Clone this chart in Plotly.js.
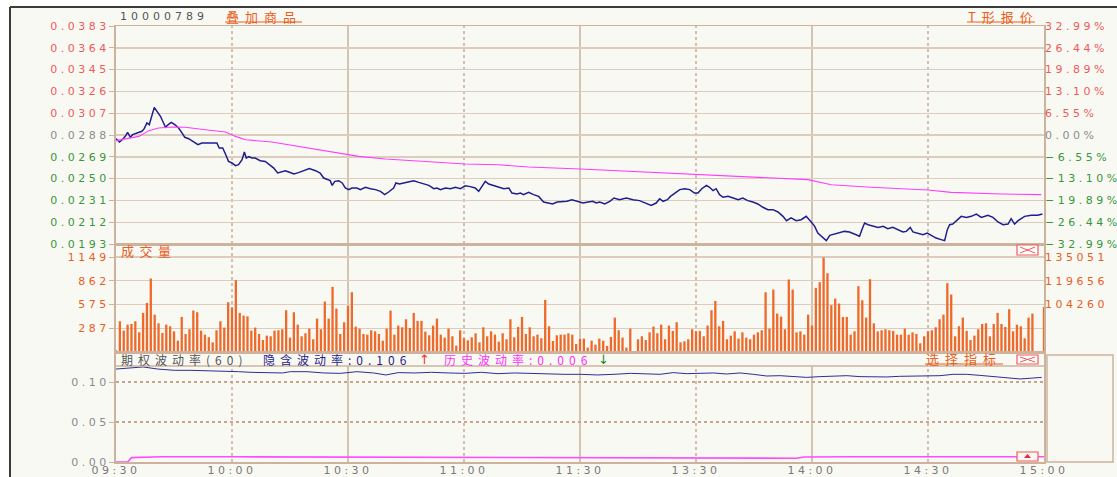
<!DOCTYPE html>
<html><head><meta charset="utf-8">
<script src="https://cdn.plot.ly/plotly-3.0.1.min.js"></script>
<style>
html,body{margin:0;padding:0;background:#fff;}
#chart{width:1117px;height:477px;}
g.xtick text, g.x3tick text, g.ytick text, g.y2tick text, g.y3tick text, g.y4tick text, g.y5tick text {letter-spacing:3.5px;}
</style></head><body><div id="chart"></div>
<script>
// ---------------- DATA ----------------
const timeTicks = [0,30,60,90,120,150,180,210,240];
const timeLabels = ['09:30','10:00','10:30','11:00','11:30','13:30','14:00','14:30','15:00'];

const basePrice = 0.0288;
const priceTicks = [0.0383,0.0364,0.0345,0.0326,0.0307,0.0288,0.0269,0.0250,0.0231,0.0212,0.0193];
const priceTickLabels = ['0.0383','0.0364','0.0345','0.0326','0.0307','0.0288','0.0269','0.0250','0.0231','0.0212','0.0193'];
const pctTickLabels = ['32.99%','26.44%','19.89%','13.10%','6.55%','0.00%','−6.55%','−13.10%','−19.89%','−26.44%','−32.99%'];

const volTicks = [287,575,862,1149];
const volTickLabels = ['287','575','862','1149'];
const volRightTicks = [1149,862,575];
const volRightLabels = ['135051','119656','104260'];

const ivTicks = [0,0.05,0.10];
const ivTickLabels = ['0.00','0.05','0.10'];

// minutes since 09:30 on the trading clock (11:30 == 13:00 == 120)
const priceMinute = [0,0.9,1.6,2.4,3.0,3.7,4.3,5.4,6.7,7.3,8.0,8.6,9.1,9.5,9.9,10.6,11.5,12.3,12.8,13.5,
14.3,15.2,16.2,17.1,17.8,18.8,20.1,21.2,22.2,23.5,24.8,26.1,26.7,27.6,28.3,29.1,30.0,30.9,31.7,32.6,
33.2,33.7,34.3,35.2,36.0,37.3,38.6,39.9,40.8,41.8,42.9,43.8,44.7,46.0,47.2,48.5,50.0,51.6,52.8,53.7,
54.6,55.4,55.9,56.6,57.6,58.5,59.3,60.2,61.0,62.3,63.2,64.5,65.8,67.1,68.4,69.5,70.5,71.8,72.4,73.3,
74.4,75.7,77.0,78.3,79.6,80.9,82.2,83.0,83.9,85.2,86.5,87.8,89.1,90.3,91.6,92.9,93.8,94.7,95.5,96.4,
97.7,99.0,100.3,101.6,102.4,103.7,104.6,105.4,106.7,108.0,109.3,110.6,111.9,112.9,114.1,115.3,116.6,117.9,119.2,120.1,
120.8,122.1,123.3,124.2,125.1,126.4,127.7,128.8,130.2,132.0,133.7,135.4,137.1,138.4,139.7,140.6,141.5,142.6,143.4,144.5,
145.8,147.1,148.4,149.6,150.5,151.5,152.7,153.5,154.4,155.2,156.1,157.0,158.3,159.6,160.9,162.1,163.4,164.7,166.0,167.3,
168.6,169.9,171.2,172.5,173.4,174.6,175.9,177.2,178.5,179.8,180.7,181.5,182.7,183.7,184.6,185.8,187.1,188.4,189.7,191.0,
192.3,192.9,193.6,194.5,195.8,197.1,198.4,199.6,200.9,202.2,203.5,204.4,205.4,206.1,207.4,208.7,209.8,210.8,212.1,213.4,
214.3,215.0,215.6,216.4,217.3,218.6,219.9,221.2,222.5,223.8,225.5,226.8,228.1,229.4,230.7,231.5,232.4,233.3,235.0,236.7,
238.4,239.6];
const price = [0.02848,0.02819,0.02839,0.02868,0.02903,0.02860,0.02883,0.02897,0.02912,0.02935,0.02985,0.02970,0.03028,0.03072,0.03121,0.03086,0.03043,0.02985,0.02947,0.02970,
0.02990,0.02970,0.02941,0.02897,0.02860,0.02848,0.02819,0.02796,0.02810,0.02810,0.02816,0.02810,0.02767,0.02767,0.02714,0.02650,0.02636,0.02613,0.02621,0.02665,
0.02732,0.02679,0.02691,0.02679,0.02679,0.02656,0.02650,0.02613,0.02592,0.02549,0.02557,0.02569,0.02557,0.02540,0.02552,0.02569,0.02587,0.02569,0.02549,0.02505,
0.02491,0.02482,0.02441,0.02476,0.02482,0.02462,0.02418,0.02404,0.02418,0.02418,0.02404,0.02424,0.02412,0.02404,0.02389,0.02360,0.02383,0.02418,0.02462,0.02453,
0.02462,0.02470,0.02482,0.02467,0.02453,0.02441,0.02412,0.02418,0.02404,0.02418,0.02412,0.02424,0.02412,0.02438,0.02430,0.02418,0.02389,0.02430,0.02476,0.02453,
0.02441,0.02424,0.02412,0.02418,0.02374,0.02366,0.02374,0.02360,0.02380,0.02360,0.02345,0.02296,0.02287,0.02279,0.02296,0.02302,0.02302,0.02316,0.02302,0.02296,
0.02287,0.02296,0.02302,0.02287,0.02296,0.02279,0.02302,0.02331,0.02316,0.02331,0.02316,0.02308,0.02287,0.02267,0.02287,0.02325,0.02302,0.02316,0.02345,0.02374,
0.02404,0.02412,0.02404,0.02374,0.02374,0.02412,0.02441,0.02424,0.02395,0.02412,0.02360,0.02337,0.02345,0.02331,0.02316,0.02331,0.02308,0.02296,0.02279,0.02250,
0.02229,0.02229,0.02209,0.02171,0.02133,0.02157,0.02133,0.02142,0.02171,0.02122,0.02084,0.02026,0.01988,0.01959,0.02005,0.02017,0.02026,0.02040,0.02035,0.02017,
0.01997,0.02055,0.02113,0.02098,0.02084,0.02075,0.02084,0.02064,0.02075,0.02055,0.02035,0.02040,0.02075,0.02035,0.02026,0.02011,0.02026,0.02005,0.01982,0.01968,
0.01959,0.02055,0.02098,0.02104,0.02128,0.02171,0.02162,0.02171,0.02191,0.02162,0.02180,0.02162,0.02122,0.02098,0.02104,0.02151,0.02104,0.02133,0.02171,0.02180,
0.02180,0.02191];

const avgMinute = [0,2.4,5.9,8.5,11.0,14.5,17.9,23.1,28.3,30.9,33.5,40.3,47.2,54.1,60.2,62.8,69.7,78.3,90.3,99.0,106.7,120.1,136.7,149.6,162.6,178.9,185.0,195.3,210.0,216.0,229.0,239.3];
const avgPrice = [0.02831,0.02848,0.02868,0.02918,0.02941,0.02950,0.02947,0.02926,0.02906,0.02868,0.02839,0.02819,0.02781,0.02746,0.02709,0.02694,0.02671,0.02650,0.02627,0.02621,0.02601,0.02584,0.02557,0.02540,0.02520,0.02491,0.02447,0.02424,0.02401,0.02380,0.02366,0.02360];

// one bar per trading minute, index = minutes since 09:30
const volume = [20,
372,259,331,339,372,238,473,594,889,452,
347,230,331,311,250,137,424,218,275,501,
481,259,210,178,117,263,372,295,602,537,
869,473,440,432,259,295,218,145,198,190,
259,263,275,505,174,481,331,190,226,283,
154,404,275,610,404,788,525,218,360,558,
723,307,283,218,210,263,250,218,137,283,
501,210,319,299,396,291,473,376,376,246,
202,319,404,210,174,283,190,77,263,166,
141,178,226,117,299,190,250,210,125,226,
154,396,178,303,424,218,299,190,210,166,
630,311,133,202,210,210,226,210,97,158,
162,53,137,89,162,137,73,182,416,263,
174,53,283,8,154,190,145,238,307,226,
331,154,319,255,360,117,129,154,275,250,
255,190,319,505,618,311,376,154,198,250,
162,238,174,154,210,238,263,723,283,755,
465,428,275,877,755,238,250,210,452,319,
776,844,1143,953,566,646,586,424,424,210,
250,796,626,416,881,347,250,263,275,263,
255,210,210,283,210,238,218,105,190,250,
263,299,396,452,832,695,190,311,416,255,
145,198,275,339,347,190,339,473,339,303,
517,250,331,311,166,416,465,
0,0,545];

const ivMinute = [0,4.3,7.0,10.8,15.1,19.4,23.7,28.0,31.7,34.9,38.7,43.0,45.1,49.4,53.7,58.0,62.3,66.6,69.8,73.0,77.3,81.6,85.9,90.2,94.5,98.8,103.1,107.3,111.6,115.9,120.2,124.5,128.8,133.1,140.7,144.1,147.6,151.0,154.5,157.9,161.4,164.8,168.3,171.7,175.2,178.6,182.1,185.5,189.0,192.4,195.8,199.3,202.7,206.2,209.6,213.1,216.5,220.0,223.4,226.9,230.3,233.8,237.2,239.4];
const impliedVol = [0.1162,0.1179,0.1188,0.1162,0.1146,0.1146,0.1142,0.1129,0.1129,0.1121,0.1121,0.1113,0.1129,0.1129,0.1113,0.1108,0.1129,0.1113,0.1088,0.1117,0.1113,0.1121,0.1113,0.1108,0.1121,0.1104,0.1113,0.1108,0.1096,0.1096,0.1096,0.1088,0.1096,0.1108,0.1096,0.1117,0.1104,0.1113,0.1113,0.1100,0.1113,0.1096,0.1075,0.1079,0.1071,0.1058,0.1067,0.1075,0.1079,0.1067,0.1063,0.1063,0.1071,0.1075,0.1083,0.1079,0.1096,0.1096,0.1083,0.1071,0.1058,0.1038,0.1050,0.1058];

const hvMinute = [0,3,4,8,12,30,60,90,110,120,150,176,178,182,184,190,240];
const histVol = [0,0,0.0055,0.006,0.0065,0.0065,0.0062,0.006,0.0055,0.005,0.0047,0.0047,0.0062,0.0066,0.0062,0.0065,0.0065];

// ---------------- STYLE / LAYOUT ----------------
const W = 1117, H = 477;
const px = x => x / W;
const py = y => 1 - y / H;
const RED = '#F05A5A', GREEN = '#3A963A', GREY = '#8C8C8C', ORANGE = '#E8601C';
const gridC = '#DDCBBC', borderC = '#CDB39E', dotC = '#C7A68F';
const tickFont = {family: 'DejaVu Sans', size: 11};

const colorFor = v => v > basePrice + 1e-9 ? RED : (v < basePrice - 1e-9 ? GREEN : GREY);
const priceText = priceTicks.map((v, i) => `<span style="color:${colorFor(v)}">${priceTickLabels[i]}</span>`);
const pctText = priceTicks.map((v, i) => `<span style="color:${colorFor(v)}">${pctTickLabels[i]}</span>`);

const xDom = [px(116), px(1044)];
// panel geometry (pixels from top)
const priceTop = 26, priceBot = 244;
const volTop = 244, volGridTop = 257, volBot = 352;
const ivHead = 352, ivTop = 366, ivBot = 462;
const volRangeTop = volTicks[volTicks.length - 1] * (volBot - volTop) / (volBot - volGridTop);
const ivPlotTop = 0.12;
const ivRangeTop = ivPlotTop * (ivBot - ivHead) / (ivBot - ivTop);

const minutes = volume.map((v, i) => i);

const traces = [
  {x: avgMinute, y: avgPrice, xaxis: 'x', yaxis: 'y2', type: 'scatter', mode: 'lines',
   line: {color: '#FF3CFF', width: 1.1}, hoverinfo: 'skip'},
  {x: priceMinute, y: price, xaxis: 'x', yaxis: 'y', type: 'scatter', mode: 'lines',
   line: {color: '#1E1E8C', width: 1.5}, hoverinfo: 'skip'},
  {x: minutes, y: volume, xaxis: 'x2', yaxis: 'y3', type: 'bar', width: 0.6,
   marker: {color: '#EE6A2A', line: {width: 0}}, hoverinfo: 'skip'},
  {x: minutes, y: volume, xaxis: 'x2', yaxis: 'y4', type: 'bar', width: 0.6,
   marker: {color: 'rgba(0,0,0,0)', line: {width: 0}}, hoverinfo: 'skip'},
  {x: ivMinute, y: impliedVol, xaxis: 'x3', yaxis: 'y5', type: 'scatter', mode: 'lines',
   line: {color: '#2E2E90', width: 1}, hoverinfo: 'skip'},
  {x: hvMinute, y: histVol, xaxis: 'x3', yaxis: 'y5', type: 'scatter', mode: 'lines',
   line: {color: '#FF4CFF', width: 1.6}, hoverinfo: 'skip'}
];

const baseX = {domain: xDom, range: [0, 240], showgrid: false, zeroline: false, ticks: '',
  showline: true, mirror: true, linecolor: borderC, linewidth: 1.5, fixedrange: true};

const shapes = [];
// background / frame
shapes.push({type: 'rect', xref: 'paper', yref: 'paper', x0: px(10), x1: 1, y0: 0, y1: py(7),
  fillcolor: '#F9F9F4', line: {width: 0}, layer: 'below'});
shapes.push({type: 'line', xref: 'paper', yref: 'paper', x0: px(10), x1: 1, y0: py(7), y1: py(7),
  line: {color: '#3C3C3C', width: 2}});
shapes.push({type: 'line', xref: 'paper', yref: 'paper', x0: px(10), x1: px(10), y0: 0, y1: py(7),
  line: {color: '#3C3C3C', width: 2}});
// vertical grid lines in each panel
const solidSet = new Set([60, 120, 180]);
timeTicks.slice(1, -1).forEach(t => {
  const solid = solidSet.has(t);
  const ln = solid ? {color: '#CDB5A1', width: 1.6} : {color: dotC, width: 1.4, dash: 'dot'};
  shapes.push({type: 'line', xref: 'x', yref: 'y domain', x0: t, x1: t, y0: 0, y1: 1, line: ln, layer: 'below'});
  shapes.push({type: 'line', xref: 'x2', yref: 'y3 domain', x0: t, x1: t, y0: 0, y1: 1, line: ln, layer: 'below'});
  shapes.push({type: 'line', xref: 'x3', yref: 'y5', x0: t, x1: t, y0: 0, y1: ivPlotTop, line: ln, layer: 'below'});
});
// header separator of the volatility panel
shapes.push({type: 'line', xref: 'paper', yref: 'paper', x0: xDom[0], x1: xDom[1], y0: py(ivTop), y1: py(ivTop),
  line: {color: borderC, width: 1.5}});
// right side empty box of the volatility panel
shapes.push({type: 'rect', xref: 'paper', yref: 'paper', x0: px(1047), x1: px(1113), y0: py(462), y1: py(355),
  line: {color: borderC, width: 1.5}});
// underlines
[[225, 302, 22], [967, 1035, 22], [925, 1003, 364]].forEach(u => {
  shapes.push({type: 'line', xref: 'paper', yref: 'paper', x0: px(u[0]), x1: px(u[1]), y0: py(u[2]), y1: py(u[2]),
    line: {color: ORANGE, width: 1}});
});
// close boxes
[[245, 255], [355, 364]].forEach(b => {
  shapes.push({type: 'rect', xref: 'paper', yref: 'paper', x0: px(1017), x1: px(1038), y0: py(b[1]), y1: py(b[0]),
    line: {color: '#F05A5A', width: 1.2}, fillcolor: '#FFFFFF'});
  shapes.push({type: 'line', xref: 'paper', yref: 'paper', x0: px(1020), x1: px(1035), y0: py(b[0] + 2), y1: py(b[1] - 2),
    line: {color: '#F05A5A', width: 1}});
  shapes.push({type: 'line', xref: 'paper', yref: 'paper', x0: px(1020), x1: px(1035), y0: py(b[1] - 2), y1: py(b[0] + 2),
    line: {color: '#F05A5A', width: 1}});
});
shapes.push({type: 'rect', xref: 'paper', yref: 'paper', x0: px(1017), x1: px(1038), y0: py(461), y1: py(452),
  line: {color: '#F05A5A', width: 1.2}, fillcolor: '#FBF5F5'});
shapes.push({type: 'path', xref: 'paper', yref: 'paper',
  path: `M ${px(1024)} ${py(458)} L ${px(1031)} ${py(458)} L ${px(1027.5)} ${py(454)} Z`,
  fillcolor: '#E03030', line: {width: 0}});

function ann(text, x, y, color, size, family, ls, xanchor) {
  return {text: `<span style="letter-spacing:${ls}px">${text}</span>`, xref: 'paper', yref: 'paper',
    x: px(x), y: py(y), xanchor: xanchor || 'left', yanchor: 'middle', showarrow: false,
    font: {family: family, size: size, color: color}};
}
const CJK = 'Noto Sans CJK SC';
const annotations = [
  ann('10000789', 118, 17, '#555555', 11, 'DejaVu Sans', 4),
  ann('叠加商品', 224, 16, ORANGE, 13, CJK, 6),
  ann('T形报价', 966, 16, ORANGE, 13, CJK, 6),
  ann('成交量', 119, 250, ORANGE, 13, CJK, 5.5),
  ann('期权波动率(60)', 119, 359, '#555555', 12, CJK, 5),
  ann('隐含波动率:0.106', 261, 359, '#1E1E8C', 12, CJK, 5),
  ann('↑', 417, 359, '#F03030', 13, 'DejaVu Sans', 0),
  ann('历史波动率:0.006', 442, 359, '#FF30FF', 12, CJK, 5),
  ann('↓', 596, 359, '#1E8C1E', 13, 'DejaVu Sans', 0),
  ann('选择指标', 924, 358, ORANGE, 13, CJK, 6)
];

const yLeftCommon = {showgrid: true, gridcolor: gridC, gridwidth: 1.4, zeroline: false,
  showline: true, mirror: true, linecolor: borderC, linewidth: 2, ticks: 'outside', ticklen: 5, tickcolor: borderC,
  ticklabelstandoff: -3, fixedrange: true};

const layout = {
  width: W, height: H, margin: {l: 0, r: 0, t: 0, b: 0},
  paper_bgcolor: '#FFFFFF', plot_bgcolor: '#F9F9F4', showlegend: false, hovermode: false,
  xaxis: Object.assign({}, baseX, {anchor: 'y', showticklabels: false}),
  yaxis: Object.assign({}, yLeftCommon, {domain: [py(priceBot), py(priceTop)],
    range: [priceTicks[priceTicks.length - 1], priceTicks[0]], anchor: 'x',
    tickvals: priceTicks, ticktext: priceText, tickfont: tickFont}),
  yaxis2: {overlaying: 'y', side: 'right', anchor: 'x', range: [priceTicks[priceTicks.length - 1], priceTicks[0]],
    tickvals: priceTicks, ticktext: pctText, showgrid: false, zeroline: false, showline: false, ticks: '',
    ticklabelstandoff: 0, tickfont: tickFont, fixedrange: true},
  xaxis2: Object.assign({}, baseX, {anchor: 'y3', showticklabels: false}),
  yaxis3: Object.assign({}, yLeftCommon, {domain: [py(volBot), py(volTop)], range: [0, volRangeTop], anchor: 'x2',
    tickvals: volTicks, ticktext: volTickLabels, tickfont: Object.assign({}, tickFont, {color: ORANGE})}),
  yaxis4: {overlaying: 'y3', side: 'right', anchor: 'x2', range: [0, volRangeTop],
    tickvals: volRightTicks, ticktext: volRightLabels, showgrid: false, zeroline: false, showline: false, ticks: '',
    ticklabelstandoff: 0, tickfont: Object.assign({}, tickFont, {color: ORANGE}), fixedrange: true},
  xaxis3: Object.assign({}, baseX, {anchor: 'y5', showticklabels: true, tickvals: timeTicks, ticktext: timeLabels,
    ticklabelstandoff: -3, tickfont: Object.assign({}, tickFont, {color: '#7A7A7A'})}),
  yaxis5: Object.assign({}, yLeftCommon, {domain: [py(ivBot), py(ivHead)], range: [0, ivRangeTop], anchor: 'x3',
    tickvals: ivTicks, ticktext: ivTickLabels, gridcolor: dotC, gridwidth: 1.2, griddash: 'dot',
    tickfont: Object.assign({}, tickFont, {color: '#8A8A8A'})}),
  shapes: shapes,
  annotations: annotations
};

Plotly.newPlot('chart', traces, layout, {staticPlot: true, displayModeBar: false});
</script></body></html>
